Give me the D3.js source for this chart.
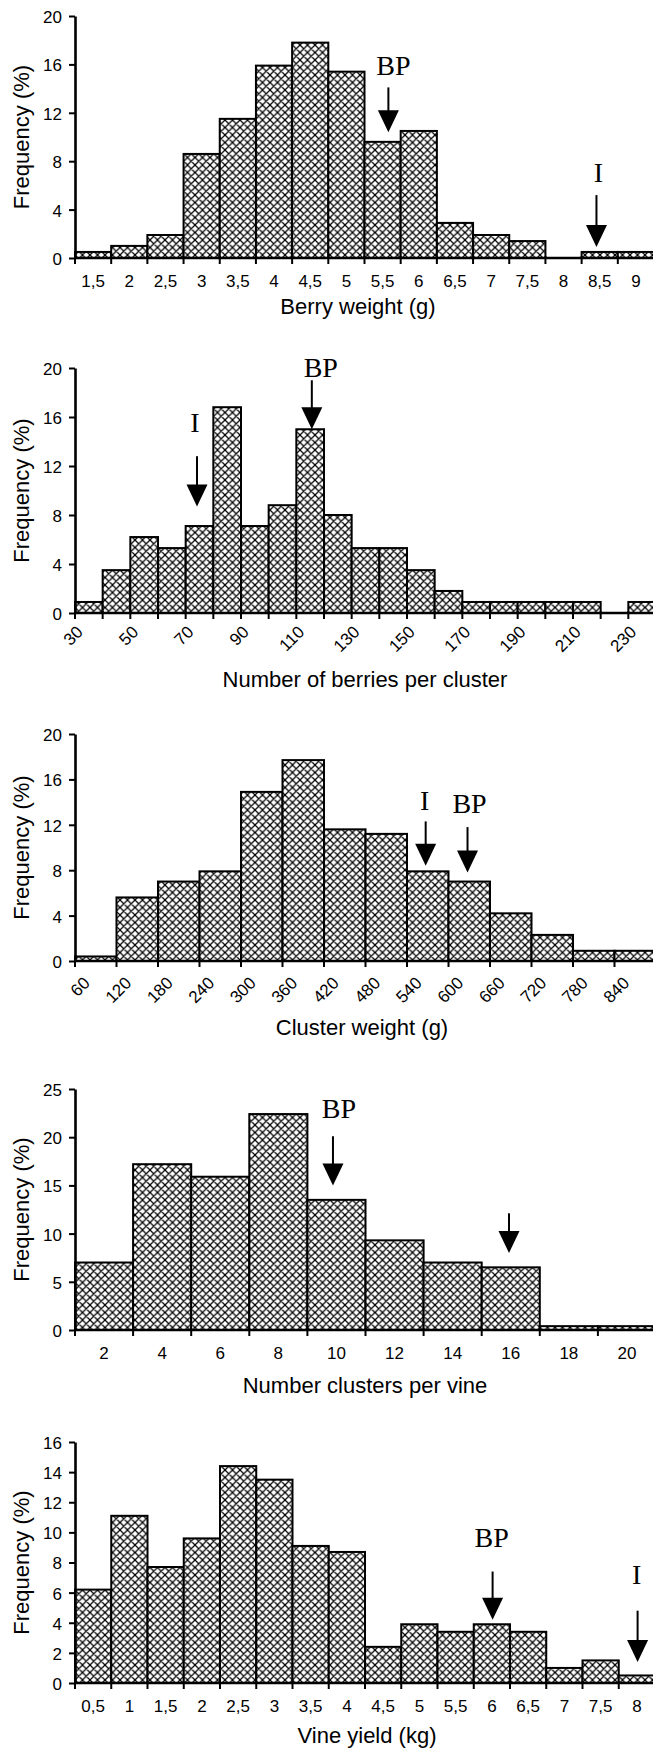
<!DOCTYPE html>
<html>
<head>
<meta charset="utf-8">
<script src="https://cdn.jsdelivr.net/npm/d3@7"></script>
<style>
  body { margin: 0; background: #fff; }
  svg { display: block; }
  text { fill: #000; }
</style>
</head>
<body>
<svg id="chart" width="653" height="1750"></svg>
<script>
// ---- data ----
var berryWeightBins = [1.5, 2, 2.5, 3, 3.5, 4, 4.5, 5, 5.5, 6, 6.5, 7, 7.5, 8, 8.5, 9];
var berryWeightLabels = ["1,5", "2", "2,5", "3", "3,5", "4", "4,5", "5", "5,5", "6", "6,5", "7", "7,5", "8", "8,5", "9"];
var berryWeightFreq = [0.5, 1.0, 1.9, 8.6, 11.5, 15.9, 17.8, 15.4, 9.6, 10.5, 2.9, 1.9, 1.4, 0, 0.5, 0.5];

var berriesBins = [30, 40, 50, 60, 70, 80, 90, 100, 110, 120, 130, 140, 150, 160, 170, 180, 190, 200, 210, 220, 230];
var berriesTicks = [30, 50, 70, 90, 110, 130, 150, 170, 190, 210, 230];
var berriesFreq = [0.9, 3.5, 6.2, 5.3, 7.1, 16.8, 7.1, 8.8, 15.0, 8.0, 5.3, 5.3, 3.5, 1.8, 0.9, 0.9, 0.9, 0.9, 0.9, 0, 0.9];

var clusterWeightBins = [60, 120, 180, 240, 300, 360, 420, 480, 540, 600, 660, 720, 780, 840];
var clusterWeightTicks = [60, 120, 180, 240, 300, 360, 420, 480, 540, 600, 660, 720, 780, 840];
var clusterWeightFreq = [0.4, 5.6, 7.0, 7.9, 14.9, 17.7, 11.6, 11.2, 7.9, 7.0, 4.2, 2.3, 0.9, 0.9];

var clustersBins = [2, 4, 6, 8, 10, 12, 14, 16, 18, 20];
var clustersLabels = ["2", "4", "6", "8", "10", "12", "14", "16", "18", "20"];
var clustersFreq = [7.0, 17.2, 15.9, 22.4, 13.5, 9.3, 7.0, 6.5, 0.4, 0.4];

var yieldBins = [0.5, 1, 1.5, 2, 2.5, 3, 3.5, 4, 4.5, 5, 5.5, 6, 6.5, 7, 7.5, 8];
var yieldLabels = ["0,5", "1", "1,5", "2", "2,5", "3", "3,5", "4", "4,5", "5", "5,5", "6", "6,5", "7", "7,5", "8"];
var yieldFreq = [6.2, 11.1, 7.7, 9.6, 14.4, 13.5, 9.1, 8.7, 2.4, 3.9, 3.4, 3.9, 3.4, 1.0, 1.5, 0.5];

var ticks20 = [0, 4, 8, 12, 16, 20];
var ticks25 = [0, 5, 10, 15, 20, 25];
var ticks16 = [0, 2, 4, 6, 8, 10, 12, 14, 16];

// arrows: x in data units, tip / tail / label baseline in frequency units
var berryWeightArrows = [
  { text: "BP", x: 5.58, tip: 10.4, tail: 14.1, label: 15.1, dx: 5 },
  { text: "I", x: 8.455, tip: 0.9, tail: 5.2, label: 6.3, dx: 2 }
];
var berriesArrows = [
  { text: "I", x: 74.1, tip: 8.7, tail: 12.8, label: 14.8, dx: -2 },
  { text: "BP", x: 115.6, tip: 15.0, tail: 19.0, label: 19.3, dx: 9 }
];
var clusterWeightArrows = [
  { text: "I", x: 567, tip: 8.4, tail: 12.3, label: 13.3, dx: -1 },
  { text: "BP", x: 627.5, tip: 7.8, tail: 11.8, label: 13.0, dx: 2 }
];
var clustersArrows = [
  { text: "BP", x: 9.88, tip: 15.0, tail: 20.1, label: 22.0, dx: 6 },
  { text: "", x: 15.94, tip: 8.0, tail: 12.1, label: 0, dx: 0 }
];
var yieldArrows = [
  { text: "BP", x: 6.01, tip: 4.2, tail: 7.4, label: 9.0, dx: -1 },
  { text: "I", x: 8.01, tip: 1.4, tail: 4.8, label: 6.55, dx: -1 }
];

var tickFont = "17px 'Liberation Sans', Arial, sans-serif";
var titleFont = "22px 'Liberation Sans', Arial, sans-serif";

var svg = d3.select("#chart");
svg.append("rect").attr("width", 653).attr("height", 1750).attr("fill", "#fff");

var defs = svg.append("defs");
var pat = defs.append("pattern")
  .attr("id", "hatch")
  .attr("patternUnits", "userSpaceOnUse")
  .attr("width", 7.5).attr("height", 7.5);
pat.append("rect").attr("width", 7.5).attr("height", 7.5).attr("fill", "#fff");
pat.append("path")
  .attr("d", "M0,0L7.5,7.5M7.5,0L0,7.5M-1,6.5L1,8.5M6.5,-1L8.5,1M-1,1L1,-1M6.5,8.5L8.5,6.5")
  .attr("stroke", "#000").attr("stroke-width", 1.25);

function drawPanel(cfg) {
  var x = d3.scaleLinear().domain(cfg.xDomain).range([75, cfg.xRight]);
  var y = d3.scaleLinear().domain([0, cfg.yMax]).range(cfg.yRange);
  var y0 = y(0);
  var g = svg.append("g");

  // bars
  g.selectAll("rect.bar")
    .data(cfg.freq.map(function (v, i) { return { lo: cfg.lo[i], v: v }; }).filter(function (d) { return d.v > 0; }))
    .enter().append("rect")
    .attr("class", "bar")
    .attr("x", function (d) { return x(d.lo); })
    .attr("width", function (d) { return x(d.lo + cfg.binW) - x(d.lo); })
    .attr("y", function (d) { return y(d.v); })
    .attr("height", function (d) { return y0 - y(d.v); })
    .attr("fill", "url(#hatch)")
    .attr("stroke", "#000")
    .attr("stroke-width", 2);

  // x axis line + ticks at bin edges
  g.append("line")
    .attr("x1", 74).attr("x2", 653).attr("y1", y0).attr("y2", y0)
    .attr("stroke", "#000").attr("stroke-width", 2.6);
  g.selectAll("line.xt")
    .data(cfg.lo.concat([cfg.lo[cfg.lo.length - 1] + cfg.binW]))
    .enter().append("line")
    .attr("class", "xt")
    .attr("x1", function (d) { return x(d); }).attr("x2", function (d) { return x(d); })
    .attr("y1", y0 - 2).attr("y2", y0 + 6)
    .attr("stroke", "#000").attr("stroke-width", 2);

  // x tick labels
  if (cfg.rotated) {
    g.selectAll("text.xl")
      .data(cfg.tickVals)
      .enter().append("text")
      .attr("class", "xl")
      .attr("transform", function (d) {
        return "translate(" + (x(d) + cfg.rotOff[0]) + "," + (y0 + cfg.rotOff[1]) + ") rotate(-45)";
      })
      .attr("text-anchor", "end")
      .style("font", tickFont)
      .text(function (d) { return d; });
  } else {
    g.selectAll("text.xl")
      .data(cfg.centers)
      .enter().append("text")
      .attr("class", "xl")
      .attr("x", function (d) { return x(d); })
      .attr("y", y0 + 29)
      .attr("text-anchor", "middle")
      .style("font", tickFont)
      .text(function (d, i) { return cfg.labels[i]; });
  }

  // y axis
  var yAxis = d3.axisLeft(y).tickValues(cfg.yTicks).tickSize(6).tickSizeOuter(0).tickPadding(7);
  var ya = g.append("g").attr("transform", "translate(75,0)").call(yAxis);
  ya.select(".domain").attr("stroke-width", 2.6);
  ya.selectAll(".tick line").attr("stroke-width", 2);
  ya.selectAll(".tick text")
    .attr("fill", "#000")
    .attr("dy", "0.38em")
    .style("font", tickFont);

  // axis titles
  g.append("text")
    .attr("transform", "translate(29," + (y(0) + y(cfg.yMax)) / 2 + ") rotate(-90)")
    .attr("text-anchor", "middle")
    .style("font", titleFont)
    .text("Frequency (%)");
  g.append("text")
    .attr("x", cfg.titleX).attr("y", cfg.titleY)
    .attr("text-anchor", "middle")
    .style("font", titleFont)
    .text(cfg.title);

  // arrows
  cfg.arrows.forEach(function (a) {
    var ax = x(a.x);
    var tipY = y(a.tip);
    g.append("line")
      .attr("x1", ax).attr("x2", ax)
      .attr("y1", y(a.tail)).attr("y2", tipY - 18)
      .attr("stroke", "#000").attr("stroke-width", 2);
    g.append("path")
      .attr("d", "M" + (ax - 10.5) + "," + (tipY - 22) + "L" + (ax + 10.5) + "," + (tipY - 22) + "L" + ax + "," + tipY + "Z")
      .attr("fill", "#000");
    if (a.text) {
      g.append("text")
        .attr("x", ax + a.dx).attr("y", y(a.label))
        .attr("text-anchor", "middle")
        .style("font", "28px 'Liberation Serif', 'Times New Roman', serif")
        .text(a.text);
    }
  });
}

drawPanel({
  xDomain: [1.25, 9.25], xRight: 654, yMax: 20, yRange: [258, 16], yTicks: ticks20,
  lo: berryWeightBins.map(function (c) { return c - 0.25; }), binW: 0.5,
  centers: berryWeightBins, labels: berryWeightLabels, freq: berryWeightFreq,
  title: "Berry weight (g)", titleX: 358, titleY: 314, arrows: berryWeightArrows
});

drawPanel({
  xDomain: [30, 240], xRight: 656, yMax: 20, yRange: [613, 368], yTicks: ticks20,
  lo: berriesBins, binW: 10, rotated: true, rotOff: [9, 20], tickVals: berriesTicks,
  freq: berriesFreq,
  title: "Number of berries per cluster", titleX: 365, titleY: 687, arrows: berriesArrows
});

drawPanel({
  xDomain: [60, 900], xRight: 656, yMax: 20, yRange: [961, 734], yTicks: ticks20,
  lo: clusterWeightBins, binW: 60, rotated: true, rotOff: [16, 23], tickVals: clusterWeightTicks,
  freq: clusterWeightFreq,
  title: "Cluster weight (g)", titleX: 362, titleY: 1035, arrows: clusterWeightArrows
});

drawPanel({
  xDomain: [1, 21], xRight: 656, yMax: 25, yRange: [1330, 1089], yTicks: ticks25,
  lo: clustersBins.map(function (c) { return c - 1; }), binW: 2,
  centers: clustersBins, labels: clustersLabels, freq: clustersFreq,
  title: "Number clusters per vine", titleX: 365, titleY: 1393, arrows: clustersArrows
});

drawPanel({
  xDomain: [0.25, 8.25], xRight: 655, yMax: 16, yRange: [1683, 1442], yTicks: ticks16,
  lo: yieldBins.map(function (c) { return c - 0.25; }), binW: 0.5,
  centers: yieldBins, labels: yieldLabels, freq: yieldFreq,
  title: "Vine yield (kg)", titleX: 367, titleY: 1743, arrows: yieldArrows
});
</script>
</body>
</html>
